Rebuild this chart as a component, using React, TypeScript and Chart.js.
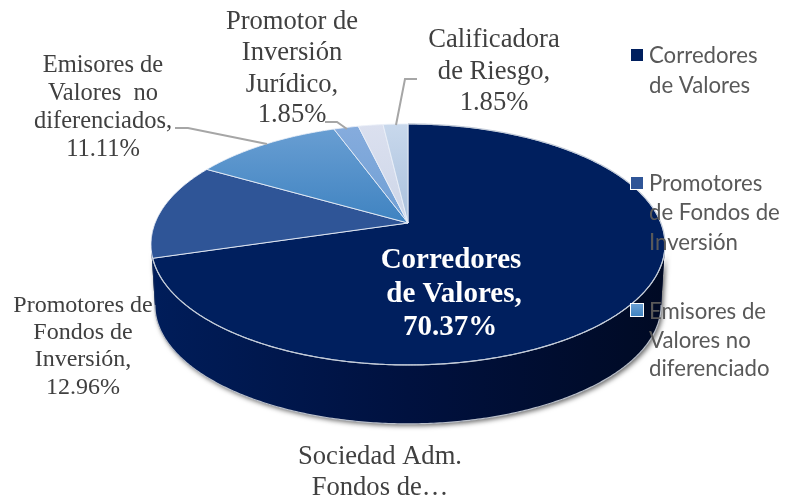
import React, { useEffect, useRef } from "react";
import { Chart, ArcElement, DoughnutController, registerables } from "chart.js";

// ---- data ----
const categories = [
  "Corredores de Valores",
  "Promotores de Fondos de Inversión",
  "Emisores de Valores no diferenciados",
  "Promotor de Inversión Jurídico",
  "Sociedad Adm. Fondos de…",
  "Calificadora de Riesgo",
];
const values = [38, 7, 6, 1, 1, 1];
const topStops = [
  ["#001f5e", "#001f5e"],
  ["#2f5597", "#2f5597"],
  ["#6a9fd3", "#3f83c1"],
  ["#86acdd", "#6f9fd4"],
  ["#dbe0ef", "#cdd6e8"],
  ["#c8d8ec", "#a9c0dc"],
];
const sideStops = [
  ["#001d5a", "#00113f", "#000a24"],
  ["#1c3667", "#1c3667", "#1c3667"],
  ["#2c5f90", "#2c5f90", "#2c5f90"],
  ["#5678a0", "#5678a0", "#5678a0"],
  ["#9aa3b5", "#9aa3b5", "#9aa3b5"],
  ["#8896ab", "#8896ab", "#8896ab"],
];
const legendEntries = [
  { lines: ["Corredores", "de Valores"], ys: [56, 86], my: 49, color: 0, outline: false },
  { lines: ["Promotores", "de Fondos de", "Inversión"], ys: [184, 213, 243], my: 177, color: 1, outline: true },
  { lines: ["Emisores de", "Valores no", "diferenciado"], ys: [312, 341, 369], my: 304, color: 2, outline: true },
];
const dataLabels = [
  { index: 1, lines: ["Promotores de", "Fondos de", "Inversión,"], x: 83, ys: [306, 333, 360, 388], size: 24 },
  { index: 2, lines: ["Emisores de", "Valores  no", "diferenciados,"], x: 103, ys: [66, 94, 122, 150], size: 24.5 },
  { index: 3, lines: ["Promotor de", "Inversión", "Jurídico,"], x: 292, ys: [22, 53, 85, 115], size: 26.6 },
  { index: 5, lines: ["Calificadora", "de Riesgo,"], x: 494, ys: [40, 72, 103], size: 26.6 },
];
const clippedLabel = ["Sociedad Adm.", "Fondos de…"];
const leaderLines = [
  [[175, 128], [188, 128], [267, 144]],
  [[325, 122], [337, 122], [347, 129]],
  [[417, 79], [405, 79], [396, 125]],
];

// ---- perspective of the pie plane ----
const CX = 408;
const APEX_Y = 223;
const A = 252.9;
const B = 116.7;
const P = 0.178;
const DEPTH = 61;
const BOTTOM_SCALE = 0.985;

const project = (angle: number, depth = 0, r = 1) => {
  const u = Math.cos(angle) * r;
  const v = Math.sin(angle) * r;
  const w = 1 - P * v;
  const s = depth ? BOTTOM_SCALE : 1;
  return { x: CX + (s * A * u) / w, y: APEX_Y + depth + (s * B * v) / w };
};

const rim = (ctx: any, a0: number, a1: number, depth = 0, move = false) => {
  const n = Math.max(2, Math.ceil(Math.abs(a1 - a0) / 0.01));
  for (let i = 0; i <= n; i++) {
    const p = project(a0 + ((a1 - a0) * i) / n, depth);
    if (i === 0 && move) ctx.moveTo(p.x, p.y);
    else ctx.lineTo(p.x, p.y);
  }
};

class Arc3D extends ArcElement {
  static id = "arc3d";
  static defaults = ArcElement.defaults;
  static defaultRoutes = ArcElement.defaultRoutes;
  draw(ctx: any) {
    const { startAngle, endAngle } = this as any;
    const o = (this as any).options;
    ctx.save();
    ctx.beginPath();
    const c = project(0, 0, 0);
    ctx.moveTo(c.x, c.y);
    rim(ctx, startAngle, endAngle);
    ctx.closePath();
    ctx.fillStyle = o.backgroundColor;
    ctx.fill();
    ctx.lineWidth = o.borderWidth;
    ctx.strokeStyle = o.borderColor;
    ctx.stroke();
    ctx.restore();
  }
}

class Pie3D extends DoughnutController {
  static id = "pie3d";
  static defaults = { ...DoughnutController.defaults, dataElementType: "arc3d" };
  static overrides = DoughnutController.overrides;
}

Chart.register(...registerables, Arc3D, Pie3D);

const SIDE_MIN = Math.asin(P);
const SIDE_MAX = Math.PI - SIDE_MIN;

const sidePlugin = {
  id: "side3d",
  beforeDatasetsDraw(chart: any) {
    const { ctx } = chart;
    ctx.save();
    // drop shadow of the whole wall
    ctx.save();
    ctx.shadowColor = "rgba(0,0,0,0.6)";
    ctx.shadowBlur = 5;
    ctx.shadowOffsetX = 2;
    ctx.shadowOffsetY = 2;
    ctx.beginPath();
    rim(ctx, SIDE_MIN, SIDE_MAX, 0, true);
    rim(ctx, SIDE_MAX, SIDE_MIN, DEPTH);
    ctx.closePath();
    ctx.fillStyle = "#00113f";
    ctx.fill();
    ctx.restore();
    chart.getDatasetMeta(0).data.forEach((el: any, i: number) => {
      const a0 = Math.max(el.startAngle, SIDE_MIN);
      const a1 = Math.min(el.endAngle, SIDE_MAX);
      if (a1 <= a0) return;
      const g = ctx.createLinearGradient(150, 0, 665, 0);
      g.addColorStop(0, sideStops[i][0]);
      g.addColorStop(0.5, sideStops[i][1]);
      g.addColorStop(1, sideStops[i][2]);
      ctx.beginPath();
      rim(ctx, a0, a1, 0, true);
      rim(ctx, a1, a0, DEPTH);
      ctx.closePath();
      ctx.fillStyle = g;
      ctx.fill();
    });
    ctx.beginPath();
    rim(ctx, SIDE_MIN, SIDE_MAX, DEPTH, true);
    ctx.strokeStyle = "#b9bfc9";
    ctx.lineWidth = 1.2;
    ctx.stroke();
    ctx.restore();
  },
};

const pct = (i: number) => {
  const total = values.reduce((s, v) => s + v, 0);
  return ((values[i] / total) * 100).toFixed(2) + "%";
};

const textPlugin = {
  id: "texts3d",
  afterDatasetsDraw(chart: any) {
    const { ctx } = chart;
    ctx.save();
    ctx.textBaseline = "middle";
    // rim highlight of the top face
    const d = chart.getDatasetMeta(0).data[0];
    ctx.beginPath();
    rim(ctx, d.startAngle, d.endAngle, 0, true);
    ctx.strokeStyle = "#c4ccd8";
    ctx.lineWidth = 1.2;
    ctx.stroke();

    // leader lines
    ctx.strokeStyle = "#a6a6a6";
    ctx.lineWidth = 2;
    leaderLines.forEach((pts) => {
      ctx.beginPath();
      pts.forEach(([x, y], i) => (i ? ctx.lineTo(x, y) : ctx.moveTo(x, y)));
      ctx.stroke();
    });

    // data labels
    ctx.textAlign = "center";
    ctx.fillStyle = "#404040";
    dataLabels.forEach((l) => {
      ctx.font = `${l.size}px 'Liberation Serif'`;
      [...l.lines, pct(l.index)].forEach((t, i) => ctx.fillText(t, l.x, l.ys[i]));
    });
    ctx.font = "26.6px 'Liberation Serif'";
    ctx.fillText(clippedLabel[0], 380, 457);
    ctx.fillText(clippedLabel[1], 380, 488);

    // big label
    ctx.fillStyle = "#ffffff";
    ctx.font = "bold 29px 'Liberation Serif'";
    ctx.fillText("Corredores", 451, 261);
    ctx.fillText("de Valores,", 454, 295);
    ctx.fillText(pct(0), 450, 328);

    // legend
    ctx.textAlign = "left";
    legendEntries.forEach((e) => {
      if (e.outline) {
        ctx.fillStyle = "#ffffff";
        ctx.fillRect(630, e.my - 1, 14, 14);
      }
      const g = ctx.createLinearGradient(0, e.my, 0, e.my + 12);
      g.addColorStop(0, topStops[e.color][0]);
      g.addColorStop(1, topStops[e.color][1]);
      ctx.fillStyle = g;
      ctx.fillRect(631, e.my, 12, 12);
      ctx.fillStyle = "#595959";
      ctx.font = "22.2px Lato";
      e.lines.forEach((t, i) => ctx.fillText(t, 649, e.ys[i]));
    });
    ctx.restore();
  },
};

export default function App() {
  const ref = useRef<HTMLCanvasElement>(null);
  useEffect(() => {
    const canvas = ref.current!;
    const c2d = canvas.getContext("2d")!;
    const fills = topStops.map(([a, b]) => {
      const g = c2d.createLinearGradient(0, 125, 0, 223);
      g.addColorStop(0, a);
      g.addColorStop(1, b);
      return g;
    });
    const chart = new Chart(canvas, {
      type: "pie3d" as any,
      data: {
        labels: categories,
        datasets: [
          {
            data: values,
            backgroundColor: fills,
            borderColor: "rgba(235,240,248,0.85)",
            borderWidth: 1,
          },
        ],
      },
      options: {
        responsive: false,
        animation: false,
        plugins: { legend: { display: false }, tooltip: { enabled: false } },
      } as any,
      plugins: [sidePlugin, textPlugin],
    });
    return () => chart.destroy();
  }, []);
  return (
    <canvas
      ref={ref}
      width={785}
      height={497}
      style={{ position: "absolute", left: 0, top: 0, display: "block" }}
    />
  );
}
